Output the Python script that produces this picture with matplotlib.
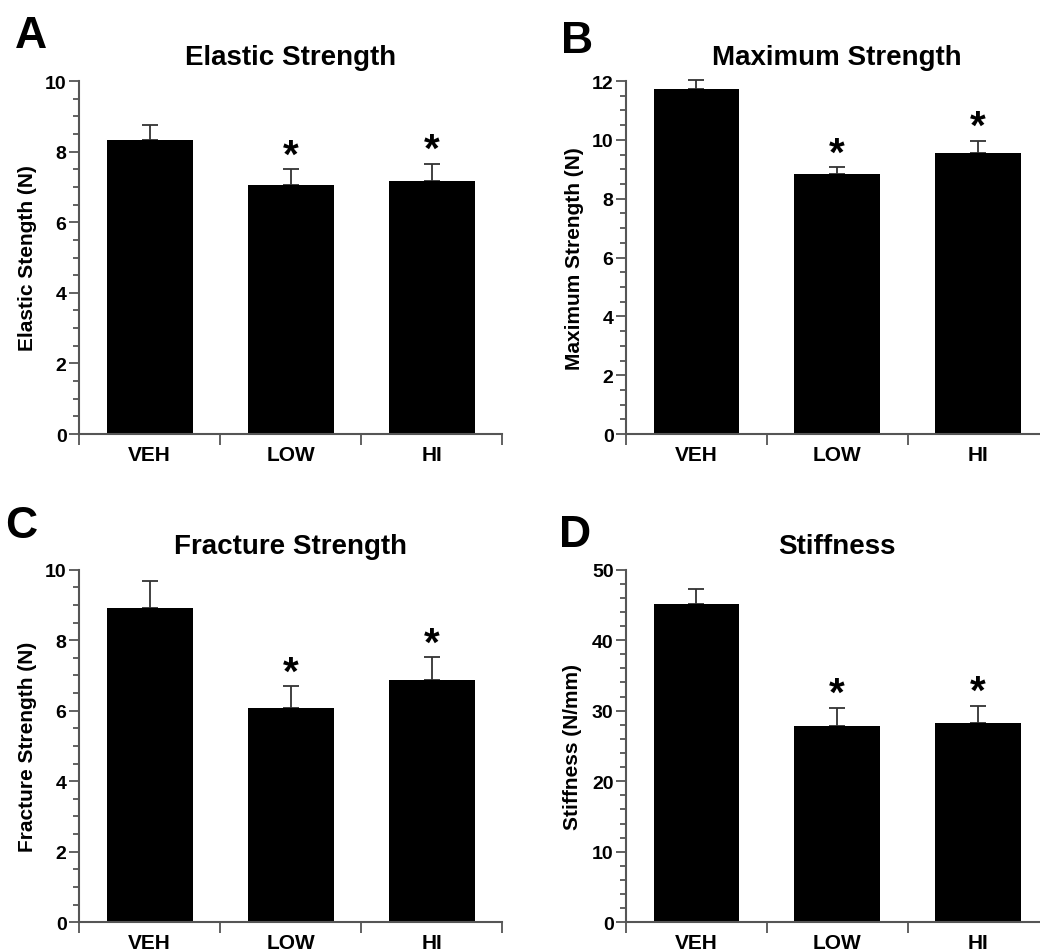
import matplotlib.pyplot as plt
import numpy as np

plt.rcParams['font.family'] = ['Liberation Sans', 'DejaVu Sans']
plt.rcParams['font.weight'] = 'bold'

groups = ['VEH', 'LOW', 'HI']

elastic_mean = [8.33, 7.05, 7.17]
elastic_err = [0.43, 0.45, 0.49]

maximum_mean = [11.73, 8.84, 9.56]
maximum_err = [0.30, 0.23, 0.41]

fracture_mean = [8.91, 6.07, 6.86]
fracture_err = [0.76, 0.62, 0.66]

stiffness_mean = [45.1, 27.8, 28.2]
stiffness_err = [2.1, 2.6, 2.5]

# significance markers (True = asterisk)
signif = [False, True, True]

panels = [
    ('A', 'Elastic Strength', 'Elastic Stength (N)', elastic_mean, elastic_err, 10, 2, 0.5),
    ('B', 'Maximum Strength', 'Maximum Strength (N)', maximum_mean, maximum_err, 12, 2, 0.5),
    ('C', 'Fracture Strength', 'Fracture Strength (N)', fracture_mean, fracture_err, 10, 2, 0.5),
    ('D', 'Stiffness', 'Stiffness (N/mm)', stiffness_mean, stiffness_err, 50, 10, 2),
]

# axes boxes in figure fraction: left, bottom, width, height
boxes = [
    [0.076, 0.5435, 0.4067, 0.3704],
    [0.602, 0.5435, 0.4060, 0.3704],
    [0.076, 0.0312, 0.4067, 0.3700],
    [0.602, 0.0312, 0.4060, 0.3700],
]
# panel letter baseline positions
letter_pos = [(0.0145, 0.9496), (0.539, 0.9444), (0.005, 0.4355), (0.5375, 0.426)]
ylabel_x = [-0.10, -0.10, -0.10, -0.104]

axis_col = '#555555'

fig = plt.figure(figsize=(10.4, 9.53), dpi=100)

for i, (letter, title, ylab, means, errs, ymax, major, minor) in enumerate(panels):
    ax = fig.add_axes(boxes[i])
    x = np.arange(len(groups)) + 0.5
    ax.bar(x, means, width=0.61, color='black', zorder=2)
    ax.errorbar(x, means, yerr=[np.zeros(len(errs)), errs], fmt='none',
                ecolor='#333333', elinewidth=1.3, capsize=6, capthick=1.3,
                zorder=1, clip_on=False)
    for xi, m, e, s in zip(x, means, errs, signif):
        if s:
            ax.annotate('*', xy=(xi, m + e), xytext=(0, 2), textcoords='offset points',
                        ha='center', va='baseline', fontsize=29, fontweight='bold')

    ax.set_xlim(0, 3)
    ax.set_ylim(0, ymax)
    ax.set_xticks([0, 1, 2, 3])
    ax.set_xticklabels([])
    ax.set_xticks(x, minor=True)
    ax.set_xticklabels(groups, minor=True, fontsize=15, fontweight='bold')
    ax.tick_params(axis='x', which='major', length=8, width=1.3, color=axis_col)
    ax.tick_params(axis='x', which='minor', length=0, pad=8)

    ax.set_yticks(np.arange(0, ymax + 0.001, major))
    ax.set_yticks(np.arange(0, ymax + 0.001, minor), minor=True)
    ax.tick_params(axis='y', which='major', length=7, width=1.3, color=axis_col,
                   labelsize=14, pad=2)
    ax.tick_params(axis='y', which='minor', length=4, width=1.3, color=axis_col)
    for lab in ax.get_yticklabels():
        lab.set_fontweight('bold')

    for side in ['top', 'right']:
        ax.spines[side].set_visible(False)
    for side in ['left', 'bottom']:
        ax.spines[side].set_color(axis_col)
        ax.spines[side].set_linewidth(1.5)

    ax.set_ylabel(ylab, fontsize=15, fontweight='bold')
    ax.yaxis.set_label_coords(ylabel_x[i], 0.5)
    ax.set_title(title, fontsize=20, fontweight='bold', pad=12)

    fig.text(letter_pos[i][0], letter_pos[i][1], letter, fontsize=32,
             fontweight='bold', ha='left', va='baseline')

plt.savefig('out.png', dpi=100)
